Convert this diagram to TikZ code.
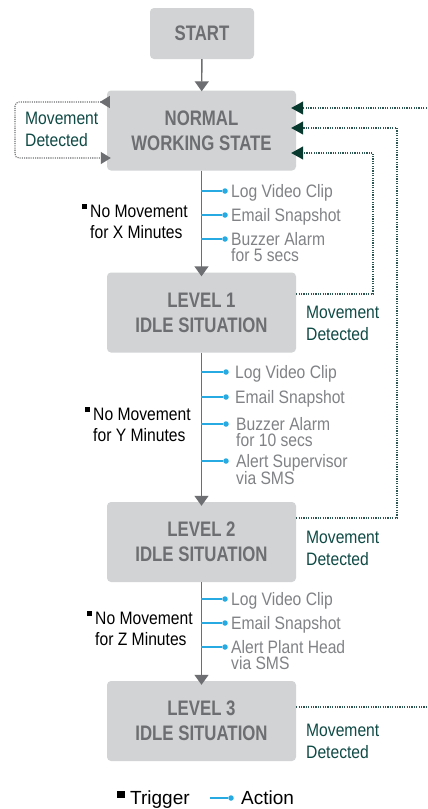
\documentclass[tikz,border=0pt]{standalone}
\usepackage{fontspec}
\setmainfont{Liberation Sans}
\newfontfamily\condfont{Liberation Sans}[FakeStretch=0.87]
\newfontfamily\boxfontfam{Liberation Sans}[FakeStretch=0.8]
\usetikzlibrary{arrows.meta,calc}
\definecolor{boxfill}{HTML}{D1D3D4}
\definecolor{boxtext}{HTML}{6D6E71}
\definecolor{acttext}{HTML}{808285}
\definecolor{actblue}{HTML}{27AAE1}
\definecolor{tealtext}{HTML}{0F4A45}
\definecolor{dotcol}{HTML}{2B5652}
\definecolor{arrowdark}{HTML}{07392F}
\definecolor{linegray}{HTML}{6D6E71}
\newcommand\twoln[2]{\vtop{\hbox{#1}\hbox{#2}}}
\newcommand\trigmark{\llap{\rule[8pt]{5pt}{5pt}\hspace{3pt}}}
\begin{document}
\begin{tikzpicture}[x=1pt,y=-1pt,
  box/.style={fill=boxfill, rounded corners=4pt, text=boxtext,
    font=\boxfontfam\bfseries\fontsize{21}{25}\selectfont, align=center,
    minimum width=189pt, minimum height=80pt, inner sep=0pt},
  flow/.style={draw=linegray, line width=1.4pt, shorten >=-4pt,
    -{Triangle[width=14pt,length=10pt]}},
  act/.style={draw=actblue, line width=1.3pt},
  dot/.style={circle, fill=actblue, inner sep=0pt, minimum size=5.5pt},
  acttxt/.style={anchor=base west, text=acttext,
    font=\condfont\fontsize{18}{16.5}\selectfont, inner sep=0pt},
  trig/.style={anchor=base west, text=black,
    font=\condfont\fontsize{18}{21.5}\selectfont, inner sep=0pt},
  md/.style={anchor=base west, text=tealtext,
    font=\condfont\fontsize{18}{22.5}\selectfont, inner sep=0pt},
  back/.style={draw=dotcol, line width=1.2pt, dash pattern=on 1.2pt off 1.2pt,
    -{Triangle[width=13pt,length=12pt,color=arrowdark]}},
  selfloop/.style={draw=linegray, line width=1.1pt, dash pattern=on 1.1pt off 1.1pt,
    rounded corners=4pt,
    {Triangle[reversed,width=12pt,length=10pt]}-{Triangle[width=12pt,length=10pt]}},
  legtxt/.style={anchor=base west, text=black,
    font=\fontsize{19}{22}\selectfont, inner sep=0pt}
]
\useasboundingbox (0,0) rectangle (428,809);
\fill[white] (0,0) rectangle (428,809);

% boxes
\node[box, minimum width=104pt, minimum height=51pt] (start) at (202,33.5) {START};
\node[box] (normal) at (201.5,130.5) {NORMAL\\WORKING STATE};
\node[box] (l1) at (201.5,312.5) {LEVEL 1\\IDLE SITUATION};
\node[box] (l2) at (201.5,542) {LEVEL 2\\IDLE SITUATION};
\node[box] (l3) at (201.5,721) {LEVEL 3\\IDLE SITUATION};

% main flow
\draw[flow, shorten >=-1pt] (start) -- (normal);
\draw[flow] (normal) -- (l1);
\draw[flow] (l1) -- (l2);
\draw[flow] (l2) -- (l3);

% self loop on normal
\draw[selfloop] ($(normal.west |- 0,102)+(3,0)$) -- (15,102) -- (15,158)
  -- ($(normal.west |- 0,158)+(4,0)$);
\node[md] (mdn) at (25,124) {\twoln{Movement}{Detected}};

% back connections
\draw[back] (l1.east |- 0,294) -- (373,294) |- ($(normal.east |- 0,153)+(-5,0)$);
\draw[back] (l2.east |- 0,518) -- (397,518) |- ($(normal.east |- 0,128)+(-5,0)$);
\draw[back] (l3.east |- 0,707) -- (434,707) |- ($(normal.east |- 0,108)+(-5,0)$);
\node[md] (md1) at (306,318) {\twoln{Movement}{Detected}};
\node[md] (md2) at (306,543) {\twoln{Movement}{Detected}};
\node[md] (md3) at (306,736) {\twoln{Movement}{Detected}};

% section 1 actions
\foreach \y/\n in {191/a1,215/a2,239/a3}{
  \coordinate (\n c) at (201,\y);
  \node[dot] (\n d) at (225,\y) {};
  \draw[act] (\n c) -- (\n d);
}
\node[acttxt] (a1t) at (231,197) {Log Video Clip};
\node[acttxt] (a2t) at (231,221) {Email Snapshot};
\node[acttxt] (a3t) at (231,245) {\twoln{Buzzer Alarm}{for 5 secs}};
\node[trig] (t1) at (90,217) {\twoln{\trigmark No Movement}{for X Minutes}};

% section 2 actions
\foreach \y/\n in {372/b1,397/b2,424/b3,461/b4}{
  \coordinate (\n c) at (201,\y);
  \node[dot] (\n d) at (226,\y) {};
  \draw[act] (\n c) -- (\n d);
}
\node[acttxt] (b1t) at (235,378) {Log Video Clip};
\node[acttxt] (b2t) at (235,403) {Email Snapshot};
\node[acttxt] (b3t) at (236,430) {\twoln{Buzzer Alarm}{for 10 secs}};
\node[acttxt] (b4t) at (236,467) {\twoln{Alert Supervisor}{via SMS}};
\node[trig] (t2) at (93,420) {\twoln{\trigmark No Movement}{for Y Minutes}};

% section 3 actions
\foreach \y/\n in {599/c1,623/c2,647/c3}{
  \coordinate (\n c) at (201,\y);
  \node[dot] (\n d) at (225,\y) {};
  \draw[act] (\n c) -- (\n d);
}
\node[acttxt] (c1t) at (231,605) {Log Video Clip};
\node[acttxt] (c2t) at (231,629) {Email Snapshot};
\node[acttxt] (c3t) at (231,653) {\twoln{Alert Plant Head}{via SMS}};
\node[trig] (t3) at (95,624) {\twoln{\trigmark No Movement}{for Z Minutes}};

% legend
\node[fill=black, inner sep=0pt, minimum size=7.5pt] (legsq) at (121,794.5) {};
\node[legtxt] (legtrig) at (130,804) {Trigger};
\coordinate (legc) at (210,798);
\node[dot] (legd) at (231,798) {};
\draw[act] (legc) -- (legd);
\node[legtxt] (legact) at (241,804) {Action};
\end{tikzpicture}
\end{document}
